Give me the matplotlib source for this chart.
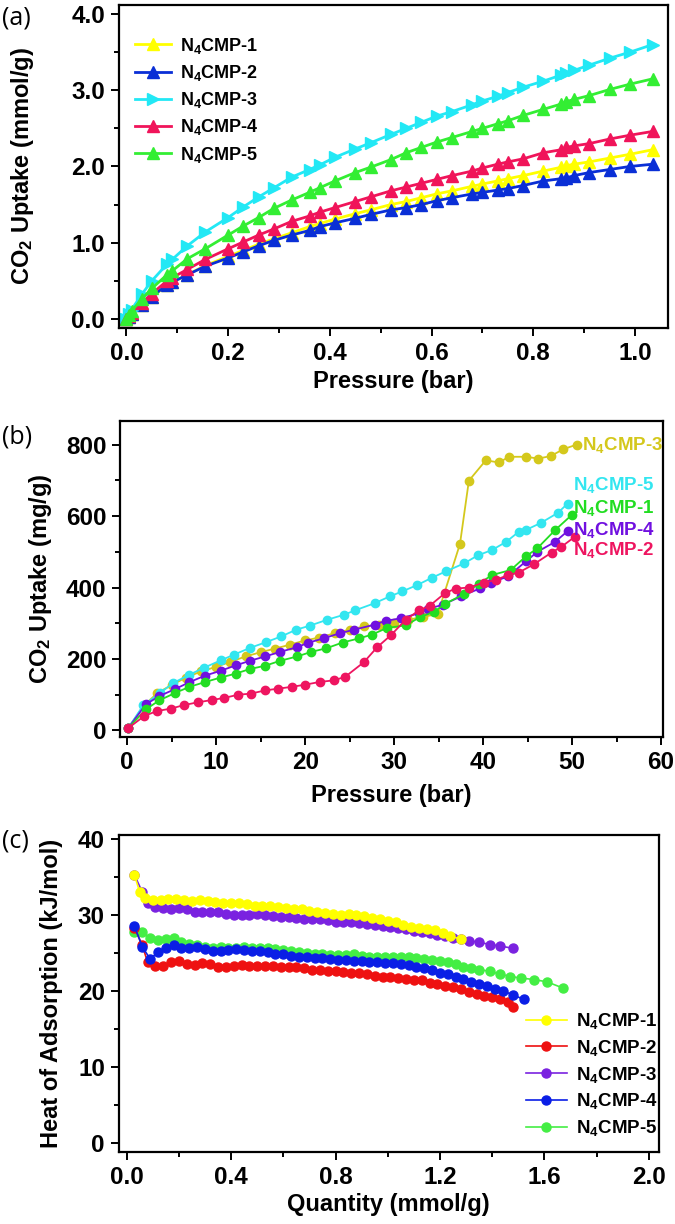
import matplotlib
matplotlib.use("Agg")
import matplotlib.pyplot as plt
from matplotlib.ticker import MultipleLocator, FormatStrFormatter

plt.rcParams['font.family'] = ['Liberation Sans', 'DejaVu Sans']
plt.rcParams['font.weight'] = 'bold'
plt.rcParams['mathtext.fontset'] = 'custom'
plt.rcParams['mathtext.rm'] = 'Liberation Sans:bold'
plt.rcParams['mathtext.default'] = 'rm'

# ---------------- (a) low pressure CO2 isotherms ----------------
p_a = [0.0, 0.005, 0.01, 0.03, 0.05, 0.08, 0.09, 0.12, 0.155, 0.2,
       0.23, 0.26, 0.29, 0.325, 0.36, 0.38, 0.41, 0.45, 0.48, 0.52,
       0.55, 0.58, 0.61, 0.64, 0.68, 0.70, 0.73, 0.75, 0.78, 0.82,
       0.855, 0.865, 0.88, 0.91, 0.95, 0.99, 1.035]
a_cmp1 = [0.0, 0.03, 0.06, 0.18, 0.29, 0.44, 0.48, 0.58, 0.70, 0.82,
          0.90, 0.98, 1.05, 1.13, 1.21, 1.25, 1.31, 1.38, 1.43, 1.50,
          1.54, 1.59, 1.64, 1.68, 1.74, 1.77, 1.81, 1.84, 1.88, 1.94,
          1.99, 2.01, 2.03, 2.06, 2.11, 2.16, 2.22]
a_cmp2 = [0.0, 0.03, 0.06, 0.18, 0.29, 0.45, 0.48, 0.58, 0.69, 0.80,
          0.88, 0.96, 1.03, 1.10, 1.16, 1.21, 1.26, 1.32, 1.37, 1.43,
          1.46, 1.50, 1.55, 1.59, 1.64, 1.66, 1.69, 1.71, 1.75, 1.81,
          1.84, 1.85, 1.88, 1.92, 1.96, 2.00, 2.03]
a_cmp3 = [0.0, 0.07, 0.12, 0.32, 0.50, 0.72, 0.78, 0.96, 1.14, 1.33,
          1.47, 1.60, 1.72, 1.86, 1.96, 2.02, 2.12, 2.23, 2.31, 2.42,
          2.50, 2.58, 2.66, 2.72, 2.81, 2.86, 2.92, 2.97, 3.04, 3.12,
          3.20, 3.22, 3.26, 3.33, 3.42, 3.50, 3.60]
a_cmp4 = [0.0, 0.04, 0.08, 0.21, 0.33, 0.50, 0.54, 0.65, 0.78, 0.92,
          1.01, 1.10, 1.18, 1.28, 1.35, 1.40, 1.46, 1.54, 1.60, 1.68,
          1.73, 1.78, 1.83, 1.88, 1.94, 1.98, 2.03, 2.06, 2.10, 2.18,
          2.22, 2.25, 2.27, 2.30, 2.36, 2.41, 2.46]
a_cmp5 = [0.0, 0.05, 0.10, 0.26, 0.40, 0.58, 0.63, 0.79, 0.92, 1.10,
          1.22, 1.33, 1.45, 1.56, 1.66, 1.72, 1.81, 1.92, 1.99, 2.09,
          2.18, 2.25, 2.32, 2.38, 2.46, 2.50, 2.56, 2.60, 2.67, 2.75,
          2.82, 2.85, 2.88, 2.93, 3.01, 3.08, 3.15]

# ---------------- (b) high pressure CO2 isotherms ----------------
b_p3 = [0.1, 1.9, 3.4, 5.0, 6.6, 8.3, 10.0, 11.6, 13.3, 15.0,
        16.6, 18.3, 20.0, 21.6, 23.3, 25.0, 26.6, 28.3, 30.0, 31.6,
        33.3, 34.9, 37.4, 38.4, 40.3, 41.8, 42.9, 44.8, 46.2, 47.6,
        49.0, 50.5]
b_cmp3 = [6, 70, 105, 127, 148, 165, 178, 192, 207, 219,
          229, 240, 252, 260, 272, 282, 291, 296, 300, 310,
          318, 326, 522, 699, 756, 750, 766, 766, 761, 768,
          787, 800]
b_p5 = [0.1, 1.8, 3.7, 5.2, 7.0, 8.6, 10.5, 12.0, 13.8, 15.6,
        17.3, 19.0, 20.5, 22.5, 24.4, 25.6, 27.8, 29.5, 30.9, 32.6,
        34.3, 35.8, 37.9, 39.4, 41.0, 42.6, 44.0, 44.8, 46.5, 48.4,
        49.5]
b_cmp5 = [6, 70, 105, 133, 156, 175, 196, 212, 231, 247,
          263, 282, 293, 310, 324, 336, 356, 375, 389, 407,
          428, 445, 468, 490, 505, 528, 556, 561, 581, 609,
          635]
b_p1 = [0.1, 2.1, 3.6, 5.4, 7.0, 8.7, 10.5, 12.2, 13.8, 15.5,
        17.2, 19.1, 20.7, 22.4, 24.2, 26.1, 27.5, 29.2, 31.3, 32.9,
        34.5, 35.7, 37.8, 39.5, 41.0, 43.1, 44.8, 46.1, 48.1, 50.0]
b_cmp1 = [6, 59, 84, 105, 122, 135, 148, 159, 172, 181,
          195, 207, 220, 230, 246, 258, 268, 287, 294, 317,
          332, 354, 381, 410, 435, 449, 487, 510, 561, 604]
b_p4 = [0.1, 2.1, 3.6, 5.4, 7.0, 8.7, 10.5, 12.2, 13.8, 15.5,
        17.2, 19.1, 20.3, 22.1, 23.9, 25.5, 27.8, 29.1, 30.8, 32.8,
        33.8, 35.5, 37.5, 39.7, 40.9, 42.8, 44.8, 46.1, 48.1, 49.5]
b_cmp4 = [6, 73, 96, 116, 135, 153, 167, 182, 195, 207,
          220, 233, 245, 258, 272, 282, 296, 307, 314, 328,
          340, 352, 375, 398, 414, 431, 473, 500, 528, 558]
b_p2 = [0.1, 1.9, 3.3, 4.9, 6.4, 8.0, 9.5, 10.9, 12.5, 13.9,
        15.5, 17.0, 18.5, 20.0, 21.7, 23.2, 24.5, 26.6, 28.1, 29.7,
        31.3, 32.8, 34.0, 35.7, 36.9, 38.4, 40.1, 41.4, 42.8, 44.0,
        45.7, 47.7, 48.8, 50.3]
b_cmp2 = [6, 40, 54, 61, 71, 79, 85, 91, 100, 103,
          112, 117, 122, 128, 136, 140, 150, 191, 233, 268,
          310, 336, 349, 384, 397, 400, 414, 421, 435, 442,
          465, 498, 514, 542]

# ---------------- (c) isosteric heat of adsorption ----------------
c_q1 = [0.03, 0.05, 0.07, 0.10, 0.13, 0.16, 0.19, 0.22, 0.25, 0.28,
        0.31, 0.34, 0.37, 0.40, 0.43, 0.46, 0.49, 0.52, 0.55, 0.58,
        0.61, 0.64, 0.67, 0.70, 0.73, 0.76, 0.79, 0.82, 0.85, 0.88,
        0.91, 0.94, 0.97, 1.00, 1.03, 1.06, 1.09, 1.12, 1.15, 1.18,
        1.21, 1.24, 1.28]
c_cmp1 = [35.2, 33.0, 32.2, 31.9, 32.0, 32.1, 32.1, 31.9, 31.8, 31.9,
          31.8, 31.7, 31.6, 31.5, 31.5, 31.4, 31.2, 31.1, 31.1, 31.0,
          30.9, 30.7, 30.7, 30.5, 30.4, 30.2, 30.1, 30.0, 30.1, 30.0,
          29.8, 29.6, 29.4, 29.2, 29.0, 28.7, 28.4, 28.3, 28.2, 28.0,
          27.6, 27.2, 26.8]
c_q2 = [0.03, 0.06, 0.08, 0.11, 0.14, 0.17, 0.20, 0.23, 0.26, 0.29,
        0.32, 0.35, 0.38, 0.41, 0.44, 0.47, 0.50, 0.53, 0.56, 0.59,
        0.62, 0.65, 0.68, 0.71, 0.74, 0.77, 0.80, 0.83, 0.86, 0.89,
        0.92, 0.95, 0.98, 1.01, 1.04, 1.07, 1.10, 1.13, 1.16, 1.19,
        1.22, 1.25, 1.28, 1.31, 1.34, 1.37, 1.40, 1.43, 1.46, 1.48]
c_cmp2 = [28.3, 26.0, 23.8, 23.3, 23.3, 23.8, 23.9, 23.5, 23.4, 23.7,
          23.5, 23.1, 23.1, 23.3, 23.4, 23.3, 23.3, 23.3, 23.3, 23.2,
          23.1, 23.1, 23.0, 22.8, 22.7, 22.6, 22.6, 22.5, 22.4, 22.3,
          22.2, 22.0, 21.9, 21.8, 21.7, 21.6, 21.5, 21.4, 21.1, 20.9,
          20.7, 20.5, 20.2, 19.9, 19.6, 19.4, 19.2, 19.0, 18.5, 17.9]
c_q3 = [0.03, 0.06, 0.08, 0.11, 0.14, 0.17, 0.20, 0.23, 0.26, 0.29,
        0.32, 0.35, 0.38, 0.41, 0.44, 0.47, 0.50, 0.53, 0.56, 0.59,
        0.62, 0.65, 0.68, 0.71, 0.74, 0.77, 0.80, 0.83, 0.86, 0.89,
        0.92, 0.95, 0.98, 1.01, 1.04, 1.07, 1.10, 1.13, 1.16, 1.19,
        1.22, 1.25, 1.28, 1.31, 1.35, 1.39, 1.43, 1.48]
c_cmp3 = [35.2, 33.0, 31.6, 31.0, 30.9, 30.8, 30.9, 30.7, 30.4, 30.3,
          30.3, 30.3, 30.1, 30.0, 30.0, 30.0, 30.1, 30.0, 29.8, 29.7,
          29.7, 29.6, 29.5, 29.4, 29.4, 29.3, 29.1, 29.1, 29.0, 28.9,
          28.8, 28.7, 28.5, 28.4, 28.3, 28.1, 27.9, 27.8, 27.6, 27.4,
          27.2, 27.0, 26.8, 26.6, 26.4, 26.1, 25.9, 25.6]
c_q4 = [0.03, 0.06, 0.09, 0.12, 0.15, 0.18, 0.21, 0.24, 0.27, 0.30,
        0.33, 0.36, 0.39, 0.42, 0.45, 0.48, 0.51, 0.54, 0.57, 0.60,
        0.63, 0.66, 0.69, 0.72, 0.75, 0.78, 0.81, 0.84, 0.87, 0.90,
        0.93, 0.96, 0.99, 1.02, 1.05, 1.08, 1.11, 1.14, 1.17, 1.20,
        1.23, 1.26, 1.29, 1.32, 1.35, 1.38, 1.41, 1.44, 1.48, 1.52]
c_cmp4 = [28.5, 25.8, 24.2, 25.1, 25.7, 26.0, 25.6, 25.7, 25.8, 25.5,
          25.3, 25.2, 25.4, 25.5, 25.4, 25.3, 25.2, 25.1, 24.9, 24.8,
          24.6, 24.5, 24.4, 24.3, 24.3, 24.2, 24.1, 24.1, 24.0, 23.9,
          23.8, 23.8, 23.7, 23.7, 23.6, 23.4, 23.2, 23.0, 22.7, 22.4,
          22.2, 21.9, 21.6, 21.2, 20.9, 20.6, 20.3, 20.0, 19.5, 18.9]
c_q5 = [0.03, 0.06, 0.09, 0.12, 0.15, 0.18, 0.21, 0.24, 0.27, 0.30,
        0.33, 0.36, 0.39, 0.42, 0.45, 0.48, 0.51, 0.54, 0.57, 0.60,
        0.63, 0.66, 0.69, 0.72, 0.75, 0.78, 0.81, 0.84, 0.87, 0.90,
        0.93, 0.96, 0.99, 1.02, 1.05, 1.08, 1.11, 1.14, 1.17, 1.20,
        1.23, 1.26, 1.29, 1.32, 1.35, 1.39, 1.43, 1.47, 1.51, 1.56,
        1.61, 1.67]
c_cmp5 = [27.8, 27.7, 26.9, 26.7, 26.8, 26.9, 26.4, 26.2, 26.0, 25.8,
          25.7, 25.8, 25.7, 25.7, 25.8, 25.7, 25.6, 25.6, 25.5, 25.4,
          25.3, 25.1, 25.0, 24.9, 24.8, 24.7, 24.7, 24.7, 24.8, 24.6,
          24.5, 24.5, 24.4, 24.4, 24.4, 24.4, 24.3, 24.2, 24.1, 24.0,
          23.8, 23.5, 23.2, 23.0, 22.8, 22.6, 22.2, 21.9, 21.7, 21.5,
          21.2, 20.4]

names = ['N$_4$CMP-1', 'N$_4$CMP-2', 'N$_4$CMP-3', 'N$_4$CMP-4', 'N$_4$CMP-5']

TICK_FS = 17.5
LAB_FS = 17


def style_axes(ax, xmaj, ymaj):
    for s in ax.spines.values():
        s.set_linewidth(1.6)
    ax.xaxis.set_major_locator(MultipleLocator(xmaj))
    ax.xaxis.set_minor_locator(MultipleLocator(xmaj / 2))
    ax.yaxis.set_major_locator(MultipleLocator(ymaj))
    ax.yaxis.set_minor_locator(MultipleLocator(ymaj / 2))
    ax.tick_params(which='both', direction='out', width=1.4, labelsize=TICK_FS,
                   top=False, right=False)
    ax.tick_params(which='major', length=6, pad=4)
    ax.tick_params(which='minor', length=3.5)
    for lab in ax.get_xticklabels() + ax.get_yticklabels():
        lab.set_fontweight('bold')


def panel_letter(y, s):
    fig.text(0.003, y, s, fontsize=18, fontweight='normal',
             family=['Open Sans', 'DejaVu Sans'], va='center')


fig = plt.figure(figsize=(6.75, 12.24), dpi=100)

# (a)
ax1 = fig.add_axes([0.176, 0.732, 0.813, 0.264])
cols_a = ['#ffff00', '#0a2fd6', '#22e8f5', '#f0145a', '#33ee33']
mk_a = ['^', '^', '>', '^', '^']
for ys, c, m, n in zip([a_cmp1, a_cmp2, a_cmp3, a_cmp4, a_cmp5], cols_a, mk_a, names):
    ax1.plot(p_a, ys, color=c, marker=m, markersize=8, linewidth=2, label=n)
ax1.set_xlim(-0.015, 1.064)
ax1.set_ylim(-0.12, 4.12)
style_axes(ax1, 0.2, 1.0)
ax1.yaxis.set_major_formatter(FormatStrFormatter('%.1f'))
ax1.set_xlabel('Pressure (bar)', fontsize=LAB_FS, fontweight='bold')
ax1.set_ylabel('CO$_2$ Uptake (mmol/g)', fontsize=LAB_FS, fontweight='bold')
ax1.xaxis.set_label_coords(0.5, -0.13)
ax1.yaxis.set_label_coords(-0.15, 0.5)
ax1.legend(loc='upper left', bbox_to_anchor=(0.0, 0.955), frameon=False,
           fontsize=13, handlelength=2.0, handletextpad=0.5, labelspacing=0.4)
panel_letter(0.985, '(a)')

# (b)
ax2 = fig.add_axes([0.178, 0.398, 0.804, 0.258])
cols_b = {'3': '#d4c81c', '5': '#33e6f0', '4': '#7010e0', '1': '#22dd22', '2': '#ee1560'}
ax2.plot(b_p3, b_cmp3, color=cols_b['3'], marker='o', markersize=6, linewidth=1.3)
ax2.plot(b_p5, b_cmp5, color=cols_b['5'], marker='o', markersize=6, linewidth=1.3)
ax2.plot(b_p4, b_cmp4, color=cols_b['4'], marker='o', markersize=6, linewidth=1.3)
ax2.plot(b_p1, b_cmp1, color=cols_b['1'], marker='o', markersize=6, linewidth=1.3)
ax2.plot(b_p2, b_cmp2, color=cols_b['2'], marker='o', markersize=6, linewidth=1.3)
ax2.set_xlim(-0.79, 60.2)
ax2.set_ylim(-18, 866)
style_axes(ax2, 10, 200)
ax2.set_xlabel('Pressure (bar)', fontsize=LAB_FS, fontweight='bold')
ax2.set_ylabel('CO$_2$ Uptake (mg/g)', fontsize=LAB_FS, fontweight='bold')
ax2.xaxis.set_label_coords(0.5, -0.15)
ax2.yaxis.set_label_coords(-0.122, 0.5)
lab_b = [('3', 51.1, 800), ('5', 50.1, 686), ('1', 50.1, 624), ('4', 50.1, 561), ('2', 50.1, 505)]
for k, x, y in lab_b:
    ax2.text(x, y, 'N$_4$CMP-' + k, color=cols_b[k], fontsize=13.5, fontweight='bold',
             va='center', ha='left')
panel_letter(0.643, '(b)')

# (c)
ax3 = fig.add_axes([0.176, 0.059, 0.80, 0.259])
cols_c = ['#ffff00', '#ee1111', '#7a22e0', '#0a1ee6', '#44ee44']
series_c = [(c_q1, c_cmp1), (c_q2, c_cmp2), (c_q3, c_cmp3), (c_q4, c_cmp4), (c_q5, c_cmp5)]
handles = [None] * 5
# draw order: green, red, purple, blue, yellow (yellow sits on top)
for i in [4, 1, 2, 3, 0]:
    xs, ys = series_c[i]
    handles[i], = ax3.plot(xs, ys, color=cols_c[i], marker='o', markersize=6.5,
                           linewidth=1.2, label=names[i])
ax3.set_xlim(-0.03, 2.038)
ax3.set_ylim(-1.1, 40.5)
style_axes(ax3, 0.4, 10)
ax3.xaxis.set_major_formatter(FormatStrFormatter('%.1f'))
ax3.set_xlabel('Quantity (mmol/g)', fontsize=LAB_FS, fontweight='bold')
ax3.set_ylabel('Heat of Adsorption (kJ/mol)', fontsize=LAB_FS, fontweight='bold')
ax3.xaxis.set_label_coords(0.5, -0.13)
ax3.yaxis.set_label_coords(-0.104, 0.5)
ax3.legend(handles=handles, loc='lower right', bbox_to_anchor=(1.03, -0.01), frameon=False,
           fontsize=13.5, handlelength=2.2, handletextpad=0.5, labelspacing=0.36)
panel_letter(0.313, '(c)')

fig.savefig('out.png', dpi=100)
